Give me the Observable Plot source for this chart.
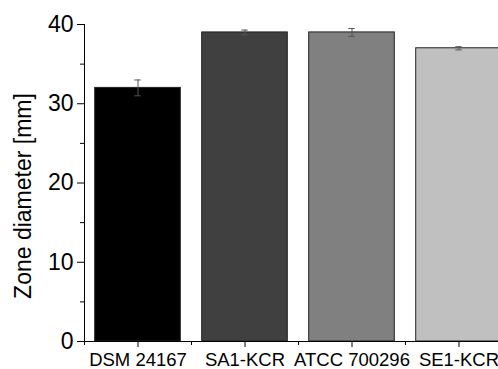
<!DOCTYPE html>
<html>
<head>
<meta charset="utf-8">
<script src="https://cdn.jsdelivr.net/npm/d3@7"></script>
<script src="https://cdn.jsdelivr.net/npm/@observablehq/plot@0.6"></script>
<style>
  html, body { margin: 0; padding: 0; background: #fff; overflow: hidden; }
  #chart svg { overflow: hidden !important; display: block; }
</style>
</head>
<body>
<div id="chart"></div>
<script>
const categories = ["DSM 24167", "SA1-KCR", "ATCC 700296", "SE1-KCR"];
const values = [32.0, 39.0, 39.0, 37.0];
const errors = [1.0, 0.3, 0.5, 0.2];
const fills = ["#000000", "#404040", "#808080", "#c0c0c0"];
const yTicks = [0, 10, 20, 30, 40];
const yMinorTicks = [5, 15, 25, 35];
const yTitle = "Zone diameter [mm]";

const data = categories.map((c, i) => ({
  i, name: c, value: values[i], err: errors[i], fill: fills[i]
}));
const xMajor = data.map(d => d.i);
const xMinor = [-0.5, ...data.map(d => d.i + 0.5)];
const halfBar = 0.4;
const halfCap = 0.03;

const chart = Plot.plot({
  width: 498,
  height: 369,
  marginLeft: 84,
  marginRight: -14,
  marginTop: 24,
  marginBottom: 28,
  style: { fontFamily: "'Liberation Sans', Arial, sans-serif", fontSize: "18px", color: "#000", background: "#fff" },
  x: { type: "linear", domain: [-0.5, 3.5], axis: null },
  y: { domain: [0, 40], axis: null },
  color: { type: "identity" },
  marks: [
    Plot.rectY(data, {
      x1: d => d.i - halfBar, x2: d => d.i + halfBar, y1: 0, y2: "value",
      fill: "fill", stroke: "#222", strokeWidth: 1
    }),
    Plot.ruleX(data, { x: "i", y1: d => d.value - d.err, y2: d => d.value + d.err, stroke: "#555", strokeWidth: 1 }),
    Plot.ruleY(data, { y: d => d.value + d.err, x1: d => d.i - halfCap, x2: d => d.i + halfCap, stroke: "#555", strokeWidth: 1 }),
    Plot.ruleY(data, { y: d => d.value - d.err, x1: d => d.i - halfCap, x2: d => d.i + halfCap, stroke: "#555", strokeWidth: 1 }),
    Plot.ruleY([0], { stroke: "#000", strokeWidth: 1 }),
    Plot.ruleX([-0.5], { y1: 0, y2: 40, stroke: "#000", strokeWidth: 1 }),
    Plot.axisY({ ticks: yTicks, tickSize: 7, tickPadding: 4, fontSize: 23, label: null, stroke: "#000" }),
    Plot.axisY({ ticks: yMinorTicks, tickSize: 4, tickFormat: () => "", label: null, stroke: "#000" }),
    Plot.axisX({ ticks: xMajor, tickSize: 6, tickPadding: 5, fontSize: 18.5, tickFormat: i => categories[i], label: null, stroke: "#000" }),
    Plot.axisX({ ticks: xMinor, tickSize: 4, tickFormat: () => "", label: null, stroke: "#000" }),
    Plot.text([yTitle], {
      frameAnchor: "left", text: d => d, rotate: -90, dx: -61, dy: 13,
      textAnchor: "middle", lineAnchor: "middle",
      fontSize: 23, fill: "#000"
    })
  ]
});
document.getElementById("chart").appendChild(chart);
</script>
</body>
</html>
